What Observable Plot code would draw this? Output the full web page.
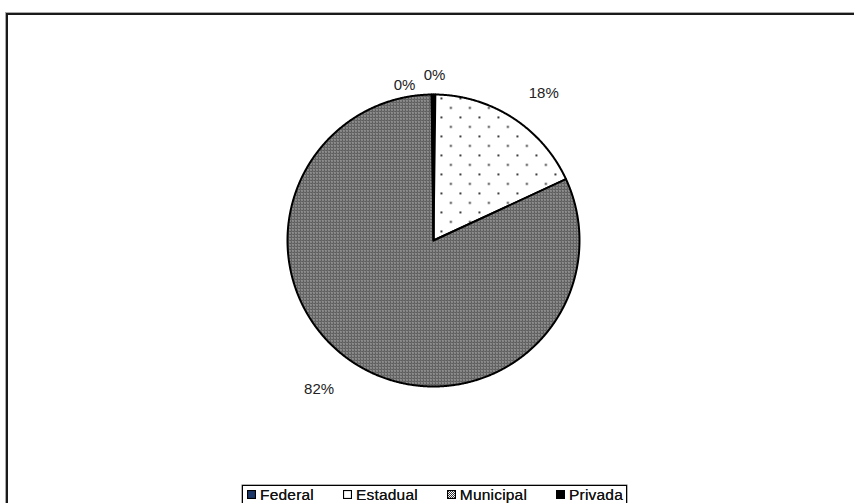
<!DOCTYPE html>
<html><head><meta charset="utf-8">
<script src="https://cdn.jsdelivr.net/npm/d3@7"></script>
<script src="https://cdn.jsdelivr.net/npm/@observablehq/plot@0.6"></script>
<style>
html,body{margin:0;padding:0;background:#fff;}
#wrap{position:relative;width:854px;height:503px;overflow:hidden;font-family:"Liberation Sans",Arial,sans-serif;}
#frame{position:absolute;left:6px;top:13px;width:900px;height:600px;border:2px solid #1a1a1a;box-shadow:0 0 0 1px #aaa;}
#chart{position:absolute;left:0;top:0;}
#legend{position:absolute;left:242px;top:485px;width:385px;height:19px;border:1px solid #000;box-shadow:0 0 0 0.5px #666;box-sizing:border-box;display:flex;justify-content:space-between;align-items:center;padding:0 3px 0 4px;font-size:15.5px;letter-spacing:0.2px;color:#111;background:#fff;}
.item{display:flex;align-items:center;gap:4px;white-space:nowrap;text-shadow:0 0 0.3px #333;}
.item svg{display:block;}
</style></head><body>
<div id="wrap"><div id="frame"></div><div id="chart"></div><div id="legend"></div></div>
<script>
// ---- data ----
const categories = ["Federal", "Estadual", "Municipal", "Privada"];
const values = [0.2, 17.9, 81.7, 0.2];
const labels = ["0%", "18%", "82%", "0%"];

// ---- styles / layout ----
const fills = ["#1c3768", "url(#pat-dots)", "url(#pat-check)", "#000000"];
const W = 854, H = 503, cx = 433, cy = 240, R = 146;
const labelRadius = [1.13, 1.2, 1.2, 1.08];
const labelNudge = [[0, 0], [0, 0], [-6, 0], [-28, 2]]; // collision avoidance for tiny slices

const rows = categories.map((name, i) => ({name, value: values[i], label: labels[i], fill: fills[i]}));
const arcs = d3.pie().sort(null).value(d => d.value)(rows);

function slicePoints(a) {
  const pts = [{x: 0, y: 0}];
  const n = Math.max(2, Math.ceil((a.endAngle - a.startAngle) / 0.005));
  for (let k = 0; k <= n; k++) {
    const t = a.startAngle + (a.endAngle - a.startAngle) * k / n;
    pts.push({x: Math.sin(t), y: Math.cos(t)});
  }
  return pts;
}

const sliceMarks = arcs.map(a => Plot.line(slicePoints(a), {
  x: "x", y: "y", fill: a.data.fill, stroke: "#000", strokeWidth: 2,
  curve: "linear-closed", strokeLinejoin: "round"
}));

const labelRows = arcs.map((a, i) => {
  const m = (a.startAngle + a.endAngle) / 2;
  const r = labelRadius[i];
  return {x: r * Math.sin(m), y: r * Math.cos(m), text: a.data.label,
          anchor: Math.abs(Math.sin(m)) < 0.05 ? "middle" : (Math.sin(m) > 0 ? "start" : "end"),
          dx: labelNudge[i][0], dy: labelNudge[i][1]};
});

const labelMarks = labelRows.map(d => Plot.text([d], {
  x: "x", y: "y", text: "text", textAnchor: d.anchor, dx: d.dx, dy: d.dy,
  fontSize: 15, fill: "#222", fontFamily: "Liberation Sans, Arial, sans-serif"
}));

const chart = Plot.plot({
  width: W, height: H,
  margin: 0,
  x: {domain: [-cx / R, (W - cx) / R], axis: null},
  y: {domain: [-(H - cy) / R, cy / R], axis: null},
  marks: [...sliceMarks, ...labelMarks]
});
chart.style.background = "transparent";

// patterns
const ns = "http://www.w3.org/2000/svg";
const defs = document.createElementNS(ns, "defs");
defs.innerHTML = `
<pattern id="pat-dots" patternUnits="userSpaceOnUse" width="19" height="19" x="3" y="2">
  <rect width="19" height="19" fill="#fff"/>
  <rect x="0" y="0" width="1.8" height="1.8" fill="#111"/>
  <rect x="9.5" y="9.5" width="1.8" height="1.8" fill="#111"/>
</pattern>
<pattern id="pat-check" patternUnits="userSpaceOnUse" width="3" height="3">
  <rect width="3" height="3" fill="#5c5c5c"/>
  <rect x="1" y="1" width="1" height="1" fill="#fff"/>
  <rect x="0" y="0" width="1" height="1" fill="#8a8a8a"/>
</pattern>
<pattern id="pat-check-sm" patternUnits="userSpaceOnUse" width="2" height="2">
  <rect width="2" height="2" fill="#fff"/>
  <rect x="0" y="0" width="1" height="1" fill="#333"/>
  <rect x="1" y="1" width="1" height="1" fill="#333"/>
</pattern>`;
chart.insertBefore(defs, chart.firstChild);
document.getElementById("chart").appendChild(chart);

// legend
const legendFills = ["#1c3768", "#fff", "url(#pat-check-sm)", "#000"];
const leg = document.getElementById("legend");
rows.forEach((d, i) => {
  const item = document.createElement("div");
  item.className = "item";
  item.innerHTML = `<svg width="9" height="9"><rect x="0.5" y="0.5" width="8" height="8" fill="${legendFills[i]}" stroke="#000" stroke-width="1.2"/></svg><span>${d.name}</span>`;
  leg.appendChild(item);
});
</script>
</body></html>
